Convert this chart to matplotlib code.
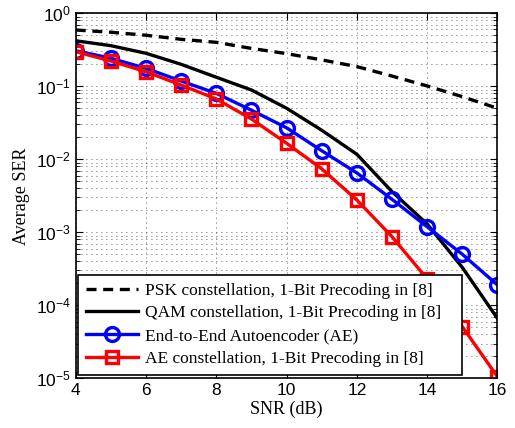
import matplotlib
matplotlib.use("Agg")
import matplotlib.pyplot as plt
from matplotlib.ticker import LogLocator, NullFormatter

plt.rcParams['font.family'] = ['Liberation Sans', 'DejaVu Sans']
plt.rcParams['mathtext.fontset'] = 'custom'
plt.rcParams['mathtext.rm'] = 'Liberation Sans'
plt.rcParams['mathtext.it'] = 'Liberation Sans'

snr = [4, 5, 6, 7, 8, 9, 10, 11, 12, 13, 14, 15, 16]
psk = [0.59, 0.55, 0.50, 0.44, 0.40, 0.33, 0.28, 0.23, 0.186, 0.138, 0.101, 0.072, 0.050]
qam = [0.42, 0.36, 0.283, 0.20, 0.133, 0.089, 0.050, 0.025, 0.0117, 0.0036, 0.0013, 3.3e-4, 6.6e-5]
ae = [0.307, 0.242, 0.176, 0.118, 0.080, 0.047, 0.027, 0.0131, 0.0065, 0.00283, 0.00119, 5.0e-4, 1.9e-4]
ae_const = [0.298, 0.222, 0.158, 0.104, 0.067, 0.0356, 0.0166, 0.0074, 0.00277, 8.7e-4, 2.3e-4, 5.1e-5, 1.05e-5]

labels = ['PSK constellation, 1-Bit Precoding in [8]',
          'QAM constellation, 1-Bit Precoding in [8]   ',
          'End-to-End Autoencoder (AE)',
          'AE constellation, 1-Bit Precoding in [8]']

fig = plt.figure(figsize=(5.15, 4.28), dpi=100)
ax = fig.add_axes([0.147, 0.116, 0.819, 0.853])

ax.semilogy(snr, psk, 'k--', lw=2.4, dashes=(3, 2), label=labels[0])
ax.semilogy(snr, qam, 'k-', lw=2.4, label=labels[1])
ax.semilogy(snr, ae, '-o', color='blue', lw=2.4, ms=10, mfc='none', mew=2.4, label=labels[2])
ax.semilogy(snr, ae_const, '-s', color='red', lw=2.4, ms=9, mfc='none', mew=2.4, label=labels[3])

ax.set_xlim(4, 16)
ax.set_ylim(1e-5, 1)
ax.set_xticks([4, 6, 8, 10, 12, 14, 16])
ax.yaxis.set_major_locator(LogLocator(base=10, numticks=10))
ax.yaxis.set_minor_locator(LogLocator(base=10, subs=range(2, 10), numticks=20))
ax.yaxis.set_minor_formatter(NullFormatter())

ax.grid(True, which='major', ls=(0, (1, 5)), color='k', lw=0.6, alpha=0.85)
ax.grid(True, which='minor', axis='y', ls=(0, (1, 5)), color='k', lw=0.6, alpha=0.85)
ax.tick_params(which='both', direction='in', top=True, right=True, labelsize=12.5)
ax.tick_params(which='major', length=5)
ax.tick_params(which='minor', length=3)
for s in ax.spines.values():
    s.set_linewidth(1.2)

serif = ['Liberation Serif', 'DejaVu Serif']
ax.set_xlabel('SNR (dB)', family=serif, fontsize=13, labelpad=2)
ax.set_ylabel('Average SER', family=serif, fontsize=13, labelpad=4)

leg = ax.legend(loc='lower left', bbox_to_anchor=(0.006, 0.01), prop={'family': serif, 'size': 12.5},
                fancybox=False, edgecolor='k', framealpha=1, borderpad=0.45, labelspacing=0.38,
                handlelength=3.0, handletextpad=0.4, borderaxespad=0)
leg.get_frame().set_linewidth(1.2)

fig.savefig('out.png', dpi=100)
